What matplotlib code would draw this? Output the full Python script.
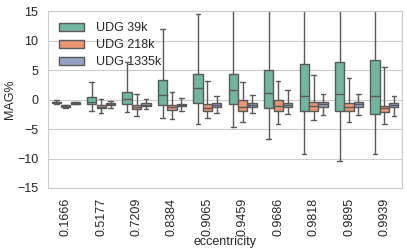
import numpy as np
import matplotlib
matplotlib.use("Agg")
import matplotlib.pyplot as plt
from matplotlib.patches import Patch
import seaborn as sns
import colorsys

sns.set_style("whitegrid")
plt.rcParams['font.family'] = ['Liberation Sans', 'DejaVu Sans']
plt.rcParams['font.size'] = 9.0

# %% data
ecc = ["0.1666", "0.5177", "0.7209", "0.8384", "0.9065",
       "0.9459", "0.9686", "0.9818", "0.9895", "0.9939"]
series = ["UDG 39k", "UDG 218k", "UDG 1335k"]

# per series: whisker low, q1, median, q3, whisker high
udg39k_lo  = [-0.8, -1.95, -2.1, -3.1, -4.1, -4.66, -6.75, -9.2, -10.5, -9.3]
udg39k_q1  = [-0.65, -0.75, -0.75, -1.0, -0.54, -0.7, -1.5, -1.95, -2.0, -2.46]
udg39k_med = [-0.5, -0.35, 0.03, 0.7, 1.9, 1.6, 1.1, 0.54, 0.88, 0.54]
udg39k_q3  = [-0.35, 0.4, 1.2, 3.3, 4.27, 4.4, 4.95, 6.1, 6.4, 6.75]
udg39k_hi  = [-0.1, 3.0, 6.4, 11.9, 14.5, 18.0, 18.0, 18.0, 18.0, 18.0]

udg218k_lo  = [-1.35, -2.2, -2.8, -3.3, -3.1, -3.86, -4.2, -3.5, -3.86, -4.2]
udg218k_q1  = [-1.25, -1.44, -1.6, -1.8, -1.9, -2.0, -2.0, -1.9, -1.9, -2.07]
udg218k_med = [-1.1, -1.2, -1.3, -1.3, -1.5, -1.2, -1.1, -1.1, -1.27, -1.5]
udg218k_q3  = [-1.0, -0.93, -1.0, -1.0, -0.76, -0.08, -0.08, -0.48, -0.65, -1.05]
udg218k_hi  = [-0.85, 0.03, 0.93, 1.27, 3.2, 2.97, 3.1, 4.15, 3.7, 5.45]

udg1335k_lo  = [-0.8, -1.5, -1.66, -1.95, -2.2, -2.3, -2.5, -2.7, -2.7, -2.85]
udg1335k_q1  = [-0.75, -0.98, -1.1, -1.1, -1.2, -1.2, -1.3, -1.2, -1.2, -1.2]
udg1335k_med = [-0.65, -0.8, -0.88, -0.88, -0.93, -0.93, -1.0, -0.8, -0.8, -0.93]
udg1335k_q3  = [-0.5, -0.65, -0.65, -0.7, -0.65, -0.6, -0.65, -0.42, -0.48, -0.65]
udg1335k_hi  = [-0.4, -0.2, 0.08, 0.3, 0.54, 0.7, 1.6, 0.93, 0.88, 0.65]

stats_all = [
    (udg39k_lo, udg39k_q1, udg39k_med, udg39k_q3, udg39k_hi),
    (udg218k_lo, udg218k_q1, udg218k_med, udg218k_q3, udg218k_hi),
    (udg1335k_lo, udg1335k_q1, udg1335k_med, udg1335k_q3, udg1335k_hi),
]

# %% colours like old seaborn boxplot
colors = [sns.desaturate(c, 0.75) for c in sns.color_palette("Set2", 3)]
lum = min(colorsys.rgb_to_hls(*c)[1] for c in colors) * 0.6
gray = (lum, lum, lum)

# %% plot
fig = plt.figure(figsize=(4.07, 2.52), dpi=100)
ax = fig.add_axes([0.118, 0.254, 0.870, 0.702])

n = len(series)
each = 0.8 / n
x = np.arange(len(ecc))
for j, (lo, q1, med, q3, hi) in enumerate(stats_all):
    st = [dict(whislo=lo[i], q1=q1[i], med=med[i], q3=q3[i], whishi=hi[i])
          for i in range(len(ecc))]
    pos = x - 0.4 + each / 2 + j * each
    ax.bxp(st, positions=pos, widths=each * 0.98, showfliers=False,
           patch_artist=True, manage_ticks=False,
           boxprops=dict(facecolor=colors[j], edgecolor=gray, linewidth=1.0),
           whiskerprops=dict(color=gray, linewidth=1.0),
           capprops=dict(color=gray, linewidth=1.0),
           medianprops=dict(color=gray, linewidth=1.0))

ax.set_xlim(-0.5, len(ecc) - 0.5)
ax.set_ylim(-15, 15)
ax.set_xticks(x)
ax.set_xticklabels(ecc, rotation=90)
ax.set_yticks([-15, -10, -5, 0, 5, 10, 15])
ax.xaxis.grid(False)
ax.set_xlabel("eccentricity", labelpad=0)
ax.set_ylabel("MAG%", labelpad=1)

handles = [Patch(facecolor=c, edgecolor=gray, linewidth=1.0) for c in colors]
ax.legend(handles, series, loc="upper left", frameon=False, labelspacing=0.4,
          handletextpad=0.9)

fig.savefig("out.png", dpi=100)
